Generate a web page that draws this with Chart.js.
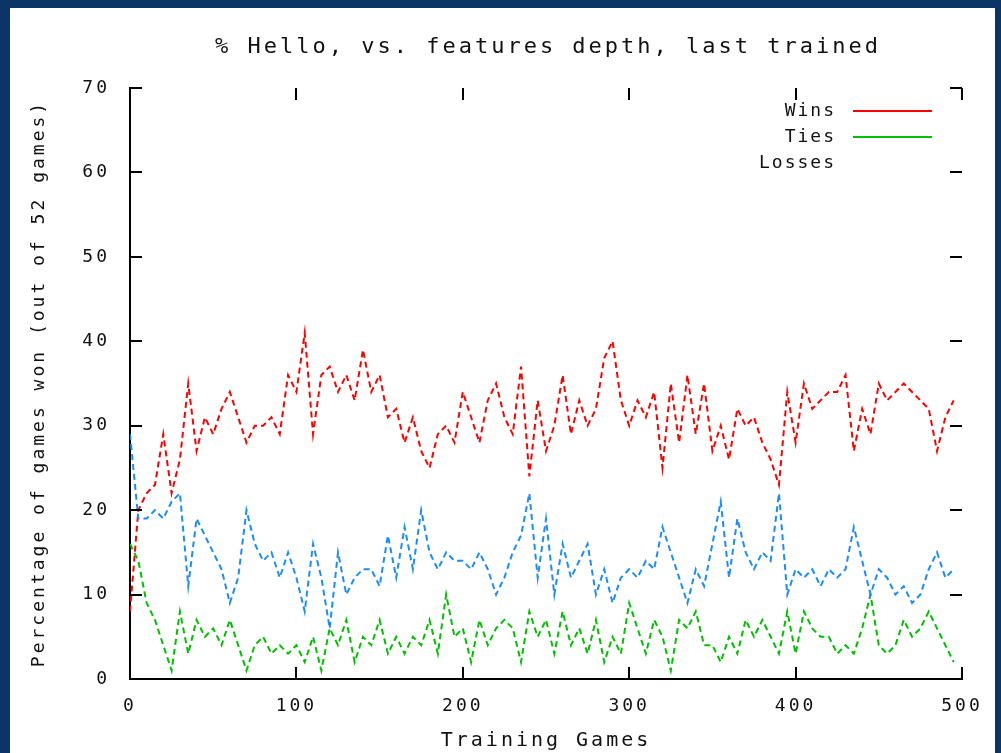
<!DOCTYPE html>
<html>
<head>
<meta charset="utf-8">
<script src="https://cdn.jsdelivr.net/npm/chart.js@4.4.1/dist/chart.umd.min.js"></script>
<style>
  html, body { margin: 0; padding: 0; background: #0b3565; }
  #wrap { position: absolute; left: 0; top: 0; width: 1001px; height: 753px; }
</style>
</head>
<body>
<div id="wrap"><canvas id="chart" width="1001" height="753"></canvas></div>
<script>
// games played (x), one sample every 5 games
const games = [
  0, 5, 10, 15, 20, 25, 30, 35, 40, 45,
  50, 55, 60, 65, 70, 75, 80, 85, 90, 95,
  100, 105, 110, 115, 120, 125, 130, 135, 140, 145,
  150, 155, 160, 165, 170, 175, 180, 185, 190, 195,
  200, 205, 210, 215, 220, 225, 230, 235, 240, 245,
  250, 255, 260, 265, 270, 275, 280, 285, 290, 295,
  300, 305, 310, 315, 320, 325, 330, 335, 340, 345,
  350, 355, 360, 365, 370, 375, 380, 385, 390, 395,
  400, 405, 410, 415, 420, 425, 430, 435, 440, 445,
  450, 455, 460, 465, 470, 475, 480, 485, 490, 495
];
const wins = [
  8, 20, 22, 23, 29, 22, 26, 35, 27, 31,
  29, 32, 34, 31, 28, 30, 30, 31, 29, 36,
  34, 41, 29, 36, 37, 34, 36, 33, 39, 34,
  36, 31, 32, 28, 31, 27, 25, 29, 30, 28,
  34, 31, 28, 33, 35, 31, 29, 37, 24, 33,
  27, 30, 36, 29, 33, 30, 32, 38, 40, 33,
  30, 33, 31, 34, 25, 35, 28, 36, 29, 35,
  27, 30, 26, 32, 30, 31, 28, 26, 23, 34,
  28, 35, 32, 33, 34, 34, 36, 27, 32, 29,
  35, 33, 34, 35, 34, 33, 32, 27, 31, 33
];
const ties = [
  16, 14, 9, 7, 4, 1, 8, 3, 7, 5,
  6, 4, 7, 4, 1, 4, 5, 3, 4, 3,
  4, 2, 5, 1, 6, 4, 7, 2, 5, 4,
  7, 3, 5, 3, 5, 4, 7, 3, 10, 5,
  6, 2, 7, 4, 6, 7, 6, 2, 8, 5,
  7, 3, 8, 4, 6, 3, 7, 2, 5, 3,
  9, 6, 3, 7, 5, 1, 7, 6, 8, 4,
  4, 2, 5, 3, 7, 5, 7, 5, 3, 8,
  3, 8, 6, 5, 5, 3, 4, 3, 6, 10,
  4, 3, 4, 7, 5, 6, 8, 6, 4, 2
];
const losses = [
  29, 19, 19, 20, 19, 21, 22, 11, 19, 17,
  15, 13, 9, 12, 20, 16, 14, 15, 12, 15,
  12, 8, 16, 12, 6, 15, 10, 12, 13, 13,
  11, 17, 12, 18, 13, 20, 15, 13, 15, 14,
  14, 13, 15, 13, 10, 12, 15, 17, 22, 12,
  19, 10, 16, 12, 14, 16, 10, 13, 9, 12,
  13, 12, 14, 13, 18, 15, 12, 9, 13, 11,
  16, 21, 12, 19, 15, 13, 15, 14, 22, 10,
  13, 12, 13, 11, 13, 12, 13, 18, 14, 10,
  13, 12, 10, 11, 9, 10, 13, 15, 12, 13
];
const seriesNames = ['Wins', 'Ties', 'Losses'];
const seriesColors = ['#ff0000', '#00c000', '#1a8cff'];
const xTicks = [0, 100, 200, 300, 400, 500];
const yTicks = [0, 10, 20, 30, 40, 50, 60, 70];
const chartTitle = '% Hello, vs. features depth, last trained';

const FONT = 'DejaVu Sans Mono';
const frameBlue = '#0b3565';

function pts(vals) {
  return games.map((g, i) => ({ x: g, y: vals[i] }));
}

// gnuplot-like wide spacing of the text
const spacing = {
  id: 'spacing',
  beforeLayout(chart) { chart.ctx.letterSpacing = '3px'; },
  beforeDraw(chart) { chart.ctx.letterSpacing = '3px'; }
};

// blue frame + white page
const frame = {
  id: 'frame',
  beforeDraw(chart) {
    const ctx = chart.ctx;
    ctx.save();
    ctx.fillStyle = frameBlue;
    ctx.fillRect(0, 0, chart.width, chart.height);
    ctx.fillStyle = '#ffffff';
    ctx.fillRect(10, 8, 985, 745);
    ctx.restore();
  }
};

// inward ticks on all four sides
const innerTicks = {
  id: 'innerTicks',
  afterDatasetsDraw(chart) {
    const ctx = chart.ctx, a = chart.chartArea;
    const xs = chart.scales.x, ys = chart.scales.y;
    ctx.save();
    ctx.strokeStyle = '#000';
    ctx.lineWidth = 2;
    ctx.beginPath();
    yTicks.forEach(v => {
      const py = Math.round(ys.getPixelForValue(v));
      ctx.moveTo(a.left, py); ctx.lineTo(a.left + 12, py);
      ctx.moveTo(a.right - 12, py); ctx.lineTo(a.right, py);
    });
    xTicks.forEach(v => {
      const px = Math.round(xs.getPixelForValue(v));
      ctx.moveTo(px, a.bottom); ctx.lineTo(px, a.bottom - 12);
      ctx.moveTo(px, a.top); ctx.lineTo(px, a.top + 12);
    });
    ctx.stroke();
    ctx.restore();
  }
};

// title over the plot, and key in the top right corner
const texts = {
  id: 'texts',
  afterDraw(chart) {
    const ctx = chart.ctx, a = chart.chartArea;
    ctx.save();
    ctx.fillStyle = '#111';
    ctx.textBaseline = 'middle';
    ctx.letterSpacing = '3px';
    ctx.font = '22px "' + FONT + '"';
    ctx.textAlign = 'center';
    ctx.fillText(chartTitle, (a.left + a.right) / 2 + 2, 47);

    ctx.letterSpacing = '2px';
    ctx.font = '18px "' + FONT + '"';
    ctx.textAlign = 'right';
    const rows = [111, 137, 163];
    seriesNames.forEach((name, i) => {
      ctx.fillText(name, 836, rows[i]);
      if (i < 2) {
        ctx.strokeStyle = seriesColors[i];
        ctx.lineWidth = 2;
        ctx.beginPath();
        ctx.moveTo(853, rows[i]);
        ctx.lineTo(932, rows[i]);
        ctx.stroke();
      }
    });
    ctx.restore();
  }
};

const datasets = seriesNames.map((name, i) => ({
  label: name,
  data: pts([wins, ties, losses][i]),
  borderColor: seriesColors[i],
  backgroundColor: seriesColors[i],
  borderWidth: 2,
  borderDash: [6, 4],
  pointRadius: 0,
  tension: 0,
  order: 3 - i
}));

new Chart(document.getElementById('chart'), {
  type: 'line',
  data: { datasets: datasets },
  plugins: [spacing, frame, innerTicks, texts],
  options: {
    responsive: false,
    animation: false,
    devicePixelRatio: 1,
    layout: { padding: { left: 0, right: 39, top: 88, bottom: 0 } },
    plugins: {
      legend: { display: false },
      tooltip: { enabled: false },
      title: { display: false }
    },
    scales: {
      x: {
        type: 'linear',
        min: 0,
        max: 500,
        afterFit(s) { s.height = 74; },
        afterBuildTicks(s) { s.ticks = xTicks.map(v => ({ value: v })); },
        grid: { display: false, drawTicks: false },
        border: { color: '#000', width: 2 },
        ticks: {
          color: '#111',
          padding: 17,
          maxRotation: 0,
          font: { family: FONT, size: 18 }
        },
        title: {
          display: true,
          text: 'Training Games',
          color: '#111',
          font: { family: FONT, size: 20 },
          padding: { top: 0, bottom: 0 }
        }
      },
      y: {
        min: 0,
        max: 70,
        afterFit(s) { s.width = 130; },
        afterBuildTicks(s) { s.ticks = yTicks.map(v => ({ value: v })); },
        grid: { display: false, drawTicks: false },
        border: { color: '#000', width: 2 },
        ticks: {
          color: '#111',
          padding: 20,
          font: { family: FONT, size: 18 }
        },
        title: {
          display: true,
          text: 'Percentage of games won (out of 52 games)',
          color: '#111',
          font: { family: FONT, size: 18 },
          padding: { top: 29, bottom: 0 }
        }
      }
    }
  }
});
</script>
</body>
</html>
